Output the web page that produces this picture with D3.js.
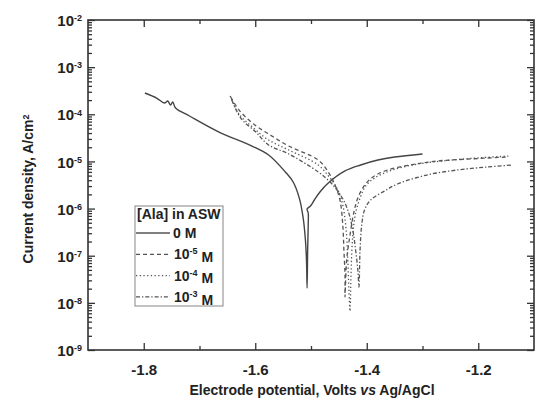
<!DOCTYPE html>
<html lang="en">
<head>
<meta charset="utf-8">
<title>Polarization curves</title>
<script src="https://d3js.org/d3.v7.min.js"></script>
<style>
  body { margin: 0; background: #fff; }
  svg text { font-family: "Liberation Sans", Arial, sans-serif; font-weight: bold; fill: #222; }
</style>
</head>
<body>
<div id="chart"></div>
<script>
// ---- data: potential (V vs Ag/AgCl) and current density (A/cm2)
var E_0M = [-1.798, -1.777, -1.763, -1.757, -1.752, -1.748, -1.743, -1.718, -1.665, -1.606, -1.576, -1.546, -1.532, -1.521, -1.514, -1.510, -1.508, -1.507,
            -1.506, -1.505, -1.505, -1.507, -1.501, -1.494, -1.484, -1.469, -1.439, -1.411, -1.380, -1.350, -1.300];
var I_0M = [2.83e-4, 2.21e-4, 1.73e-4, 1.91e-4, 1.57e-4, 1.82e-4, 1.36e-4, 9.2e-5, 4.2e-5, 2.12e-5, 1.37e-5, 5.97e-6, 3.66e-6, 1.67e-6, 6.3e-7, 2.15e-7, 7.4e-8, 2.06e-8,
            1.32e-7, 4.5e-7, 8.05e-7, 9.8e-7, 1.13e-6, 1.52e-6, 2.25e-6, 3.48e-6, 6.27e-6, 8.4e-6, 1.07e-5, 1.24e-5, 1.44e-5];

var E_1e5 = [-1.644, -1.629, -1.603, -1.576, -1.540, -1.487, -1.469, -1.457, -1.448, -1.443, -1.441, -1.439, -1.439,
             -1.436, -1.430, -1.423, -1.416, -1.405, -1.389, -1.363, -1.322, -1.274, -1.220, -1.149];
var I_1e5 = [2.33e-4, 1.23e-4, 6.2e-5, 3.82e-5, 2.12e-5, 1.07e-5, 5.97e-6, 3.16e-6, 1.52e-6, 4.5e-7, 1.32e-7, 3.9e-8, 1.33e-8,
             8.1e-8, 2.75e-7, 8.45e-7, 1.67e-6, 3.01e-6, 4.68e-6, 6.58e-6, 8.4e-6, 1.02e-5, 1.12e-5, 1.24e-5];

var E_1e4 = [-1.645, -1.629, -1.603, -1.576, -1.540, -1.487, -1.466, -1.452, -1.443, -1.437, -1.434, -1.432, -1.430,
             -1.428, -1.425, -1.420, -1.412, -1.402, -1.386, -1.359, -1.318, -1.265, -1.203, -1.146];
var I_1e4 = [2.44e-4, 1.01e-4, 5.12e-5, 2.85e-5, 1.75e-5, 8.4e-6, 4.45e-6, 2.48e-6, 1.19e-6, 3.51e-7, 8.1e-8, 1.87e-8, 6.7e-9,
             4.98e-8, 2.75e-7, 8.05e-7, 1.67e-6, 3.01e-6, 4.45e-6, 6.27e-6, 8.4e-6, 1.02e-5, 1.18e-5, 1.30e-5];

var E_1e3 = [-1.642, -1.626, -1.599, -1.576, -1.540, -1.487, -1.464, -1.446, -1.434, -1.425, -1.420, -1.416, -1.414,
             -1.412, -1.409, -1.404, -1.393, -1.368, -1.345, -1.292, -1.238, -1.185, -1.139];
var I_1e3 = [2.01e-4, 8.3e-5, 4.2e-5, 2.23e-5, 1.44e-5, 5.97e-6, 3.48e-6, 1.85e-6, 9.3e-7, 3.51e-7, 1.32e-7, 4.98e-8, 2.17e-8,
             1.32e-7, 4.5e-7, 9.3e-7, 1.52e-6, 2.36e-6, 3.32e-6, 5.15e-6, 6.58e-6, 7.6e-6, 8.4e-6];

var series_labels = ['0', '-5', '-4', '-3'];   // exponent of the concentration, '0' means 0 M
var x_ticks = [-1.8, -1.6, -1.4, -1.2],
    x_minor = [-1.7, -1.5, -1.3],
    y_exps = [-9, -8, -7, -6, -5, -4, -3, -2];

var W = 541, H = 401;
var margin = {top: 20, right: 7, bottom: 51, left: 88},
    width = W - margin.left - margin.right,
    height = H - margin.top - margin.bottom;

var svg = d3.select("#chart").append("svg")
    .attr("width", W).attr("height", H);
var g = svg.append("g")
    .attr("transform", "translate(" + margin.left + "," + margin.top + ")");

var x = d3.scaleLinear().domain([-1.9, -1.1]).range([0, width]);
var y = d3.scaleLog().domain([1e-9, 1e-2]).range([height, 0]);

var y_major = y_exps.map(function(e){ return Math.pow(10, e); });
var y_minor = [];
for (var i = 0; i < y_exps.length - 1; i++){
    for (var k = 2; k < 10; k++) y_minor.push(k * Math.pow(10, y_exps[i]));
}

function style_axis(sel){
    sel.select(".domain").remove();
    sel.selectAll("line").attr("stroke", "#333").attr("stroke-width", 1.3);
}

// bottom axis with labels (plain hyphen as in the original)
var gx = g.append("g")
    .attr("transform", "translate(0," + height + ")")
    .call(d3.axisBottom(x).tickValues(x_ticks).tickSize(-7).tickPadding(14)
          .tickFormat(function(d){ return d.toFixed(1); }));
style_axis(gx);
gx.selectAll("text").style("font-size", "15px").attr("fill", "#222");
g.append("g").attr("transform", "translate(0," + height + ")")
    .call(d3.axisBottom(x).tickValues(x_minor).tickSize(-4).tickFormat(""))
    .call(style_axis);
// top axis ticks
g.append("g").call(d3.axisTop(x).tickValues(x_ticks).tickSize(-7).tickFormat("")).call(style_axis);
g.append("g").call(d3.axisTop(x).tickValues(x_minor).tickSize(-4).tickFormat("")).call(style_axis);

// left axis
var gy = g.append("g")
    .call(d3.axisLeft(y).tickValues(y_major).tickSize(-7).tickFormat(""));
style_axis(gy);
gy.selectAll(".tick").append("text")
    .attr("x", -6).attr("dy", "0.38em").attr("text-anchor", "end")
    .style("font-size", "15px")
    .each(function(d){
        var t = d3.select(this);
        t.append("tspan").text("10");
        t.append("tspan").attr("dy", "-0.55em").style("font-size", "9px").text(Math.round(Math.log10(d)));
    });
g.append("g").call(d3.axisLeft(y).tickValues(y_minor).tickSize(-4).tickFormat("")).call(style_axis);
// right axis ticks
g.append("g").attr("transform", "translate(" + width + ",0)")
    .call(d3.axisRight(y).tickValues(y_major).tickSize(-7).tickFormat("")).call(style_axis);
g.append("g").attr("transform", "translate(" + width + ",0)")
    .call(d3.axisRight(y).tickValues(y_minor).tickSize(-4).tickFormat("")).call(style_axis);

// frame
g.append("rect")
    .attr("width", width).attr("height", height)
    .attr("fill", "none").attr("stroke", "#333").attr("stroke-width", 1.6);

// curves
var dashes = ["none", "4,3", "1.3,2.4", "4,2,1.3,2"];
var all_E = [E_0M, E_1e5, E_1e4, E_1e3],
    all_I = [I_0M, I_1e5, I_1e4, I_1e3];
var line = d3.line()
    .curve(d3.curveCatmullRom.alpha(0.5))
    .x(function(d){ return x(d[0]); })
    .y(function(d){ return y(d[1]); });

for (var s = 0; s < all_E.length; s++){
    var pts = all_E[s].map(function(e, j){ return [e, all_I[s][j]]; });
    g.append("path")
        .datum(pts)
        .attr("fill", "none")
        .attr("stroke", s == 0 ? "#444" : "#555")
        .attr("stroke-width", s == 0 ? 1.4 : 1.3)
        .attr("stroke-dasharray", dashes[s])
        .attr("d", line);
}

// legend
var lg = svg.append("g").attr("transform", "translate(135,206)");
lg.append("rect")
    .attr("width", 88).attr("height", 100)
    .attr("fill", "#fff").attr("stroke", "#999").attr("stroke-width", 1.2);
lg.append("text").attr("x", 2).attr("y", 13).style("font-size", "14px").text("[Ala] in ASW");
for (var r = 0; r < series_labels.length; r++){
    var ly = 27 + r * 21.3;
    lg.append("line")
        .attr("x1", 1).attr("x2", 35).attr("y1", ly).attr("y2", ly)
        .attr("stroke", "#555").attr("stroke-width", 1.3)
        .attr("stroke-dasharray", dashes[r]);
    var t = lg.append("text").attr("x", r == 0 ? 38 : 39).attr("y", ly + 5).style("font-size", "14px");
    if (series_labels[r] == '0'){
        t.text("0 M");
    } else {
        t.append("tspan").text("10");
        t.append("tspan").attr("dy", "-0.55em").style("font-size", "9px").text(series_labels[r]);
        t.append("tspan").attr("dy", "0.55em").text(" M");
    }
}

// axis titles
svg.append("text")
    .attr("transform", "translate(33," + (margin.top + 169) + ") rotate(-90)")
    .attr("text-anchor", "middle")
    .style("font-size", "14px")
    .call(function(t){
        t.append("tspan").text("Current density, A/cm");
        t.append("tspan").attr("dy", "-0.5em").style("font-size", "9px").text("2");
    });

var xt = svg.append("text")
    .attr("x", 312).attr("y", 395)
    .attr("text-anchor", "middle")
    .style("font-size", "14px");
xt.append("tspan").text("Electrode potential, Volts ");
xt.append("tspan").style("font-style", "italic").text("vs");
xt.append("tspan").text(" Ag/AgCl");
</script>
</body>
</html>
